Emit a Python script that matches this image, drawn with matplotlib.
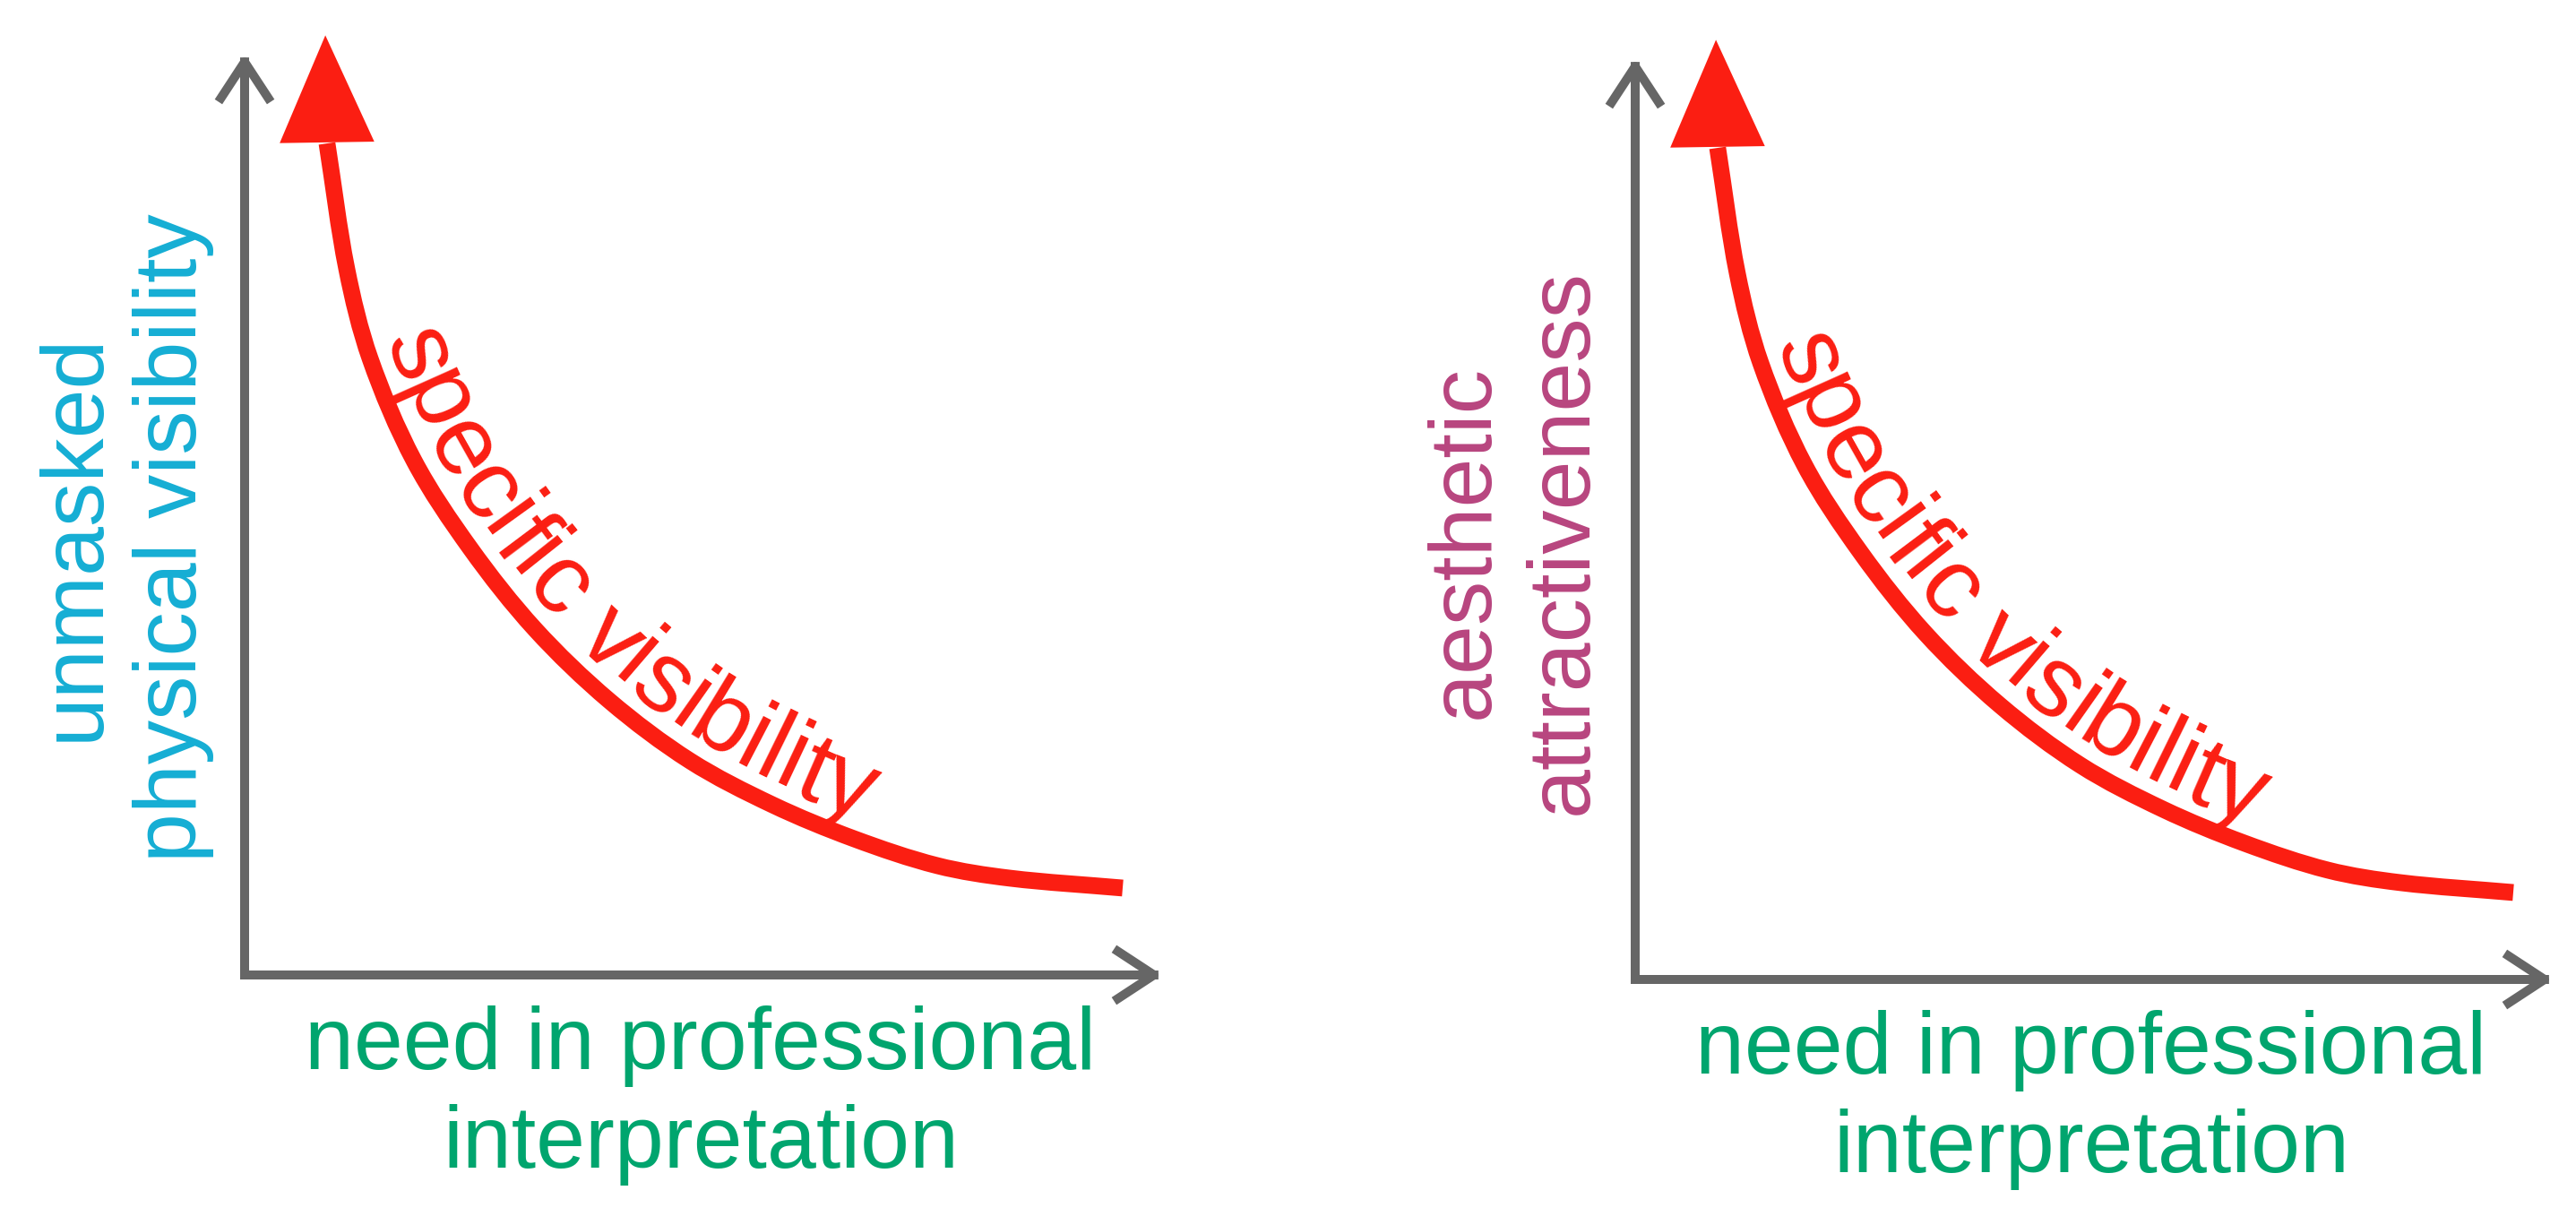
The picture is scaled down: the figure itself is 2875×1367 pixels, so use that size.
import numpy as np
import matplotlib
matplotlib.use('Agg')
import matplotlib.pyplot as plt
from matplotlib import font_manager
from matplotlib.ft2font import FT2Font
from matplotlib.path import Path
from matplotlib.patches import PathPatch

# red curve, in fractions of the axis lengths
curve_x = [0.0898, 0.1113, 0.1367, 0.1846, 0.2461, 0.3164, 0.3975,
           0.4854, 0.5752, 0.6641, 0.7549, 0.8340, 0.9570]
curve_y = [0.9027, 0.7665, 0.6693, 0.5584, 0.4630, 0.3755, 0.2977,
           0.2325, 0.1848, 0.1479, 0.1187, 0.1051, 0.0944]
arrow_tip = (0.088, 1.02)

curve_label = 'specific visibility'
x_label_lines = ['need in professional', 'interpretation']
y_label_lines = [['unmasked', 'physical visibility'],
                 ['aesthetic', 'attractiveness']]
y_label_colors = ['#15aed4', '#b8457f']

RED = '#fb1e12'
GRAY = '#666666'
GREEN = '#00a56e'
FONT = ['Liberation Sans', 'DejaVu Sans']

W, H = 2875, 1367
plt.rcParams['font.family'] = FONT
fig = plt.figure(figsize=(W / 100, H / 100), dpi=100)
fig.patch.set_facecolor('white')

# origin of each panel's axis cross, in pixels from the top-left corner
origins = [(273, 1088), (1825, 1093)]
AX_W, AX_H = 1024, 1028


def smooth_path(xs, ys):
    # smooth bezier through the points, handles a third of each chord long
    p = np.column_stack([xs, ys])
    ext = np.vstack([p[0], p, p[-1]])
    tang = ext[2:] - ext[:-2]
    tang /= np.hypot(tang[:, 0], tang[:, 1])[:, None]
    verts = [p[0]]
    codes = [Path.MOVETO]
    for i in range(len(p) - 1):
        d = np.hypot(*(p[i + 1] - p[i])) / 3
        verts += [p[i] + tang[i] * d, p[i + 1] - tang[i + 1] * d, p[i + 1]]
        codes += [Path.CURVE4] * 3
    return Path(verts, codes)


def char_advances(text, size):
    prop = font_manager.FontProperties(family=FONT, size=size)
    ft = FT2Font(font_manager.findfont(prop))
    ft.set_size(size, fig.dpi)
    return [ft.load_char(ord(c)).linearHoriAdvance / 65536 for c in text]


def text_on_curve(ax, path, text, size, start, offset):
    pts = ax.transData.transform_path(path).to_polygons(closed_only=False)[0]
    # normals pointing to the upper right of the curve
    tang = np.gradient(pts, axis=0)
    tang /= np.hypot(tang[:, 0], tang[:, 1])[:, None]
    normal = np.column_stack([-tang[:, 1], tang[:, 0]])
    base = pts + offset * normal
    seg = np.hypot(*np.diff(base, axis=0).T)
    arc = np.concatenate([[0], np.cumsum(seg)])

    def at(s):
        return np.interp(s, arc, base[:, 0]), np.interp(s, arc, base[:, 1])

    s = start
    for ch, adv in zip(text, char_advances(text, size)):
        x0, y0 = at(s)
        x1, y1 = at(s + adv)
        ang = np.degrees(np.arctan2(y1 - y0, x1 - x0))
        if ch != ' ':
            fig.text(x0 / W, y0 / H, ch, fontsize=size, color=RED,
                     rotation=ang, rotation_mode='anchor',
                     ha='left', va='baseline')
        s += adv


curve_path = smooth_path(curve_x, curve_y)

for i, (ox, oy) in enumerate(origins):
    ax = fig.add_axes([ox / W, 1 - oy / H, AX_W / W, AX_H / H])
    ax.set_xlim(0, 1)
    ax.set_ylim(0, 1)
    ax.axis('off')

    # axis arrows
    for end in [(1, 0), (0, 1)]:
        ax.annotate('', xy=end, xytext=(0, 0), xycoords='axes fraction',
                    textcoords='axes fraction', annotation_clip=False,
                    arrowprops=dict(arrowstyle='->,head_length=29,head_width=19',
                                    mutation_scale=1, lw=7.2, color=GRAY,
                                    shrinkA=0, shrinkB=0, capstyle='projecting'))

    # red curve with its arrow head
    ax.add_patch(PathPatch(curve_path, fill=False, edgecolor=RED, lw=13.5,
                           capstyle='butt', clip_on=False))
    ax.annotate('', xy=arrow_tip, xytext=(curve_x[0], curve_y[0]),
                annotation_clip=False,
                arrowprops=dict(arrowstyle='-|>,head_length=86,head_width=38',
                                mutation_scale=1, lw=0, color=RED,
                                shrinkA=0, shrinkB=0))

    text_on_curve(ax, curve_path, curve_label, 80, start=228, offset=21)

    # x label
    for line, y in zip(x_label_lines, [-0.102, -0.209]):
        ax.text(0.497, y, line, transform=ax.transAxes, ha='center',
                va='baseline', fontsize=71, color=GREEN)

    # y label
    for line, x in zip(y_label_lines[i], [-0.160, -0.053]):
        ax.text(x, 0.475, line, transform=ax.transAxes, rotation=90,
                rotation_mode='anchor', ha='center', va='baseline',
                fontsize=71, color=y_label_colors[i])

fig.savefig('out.png', dpi=100)
